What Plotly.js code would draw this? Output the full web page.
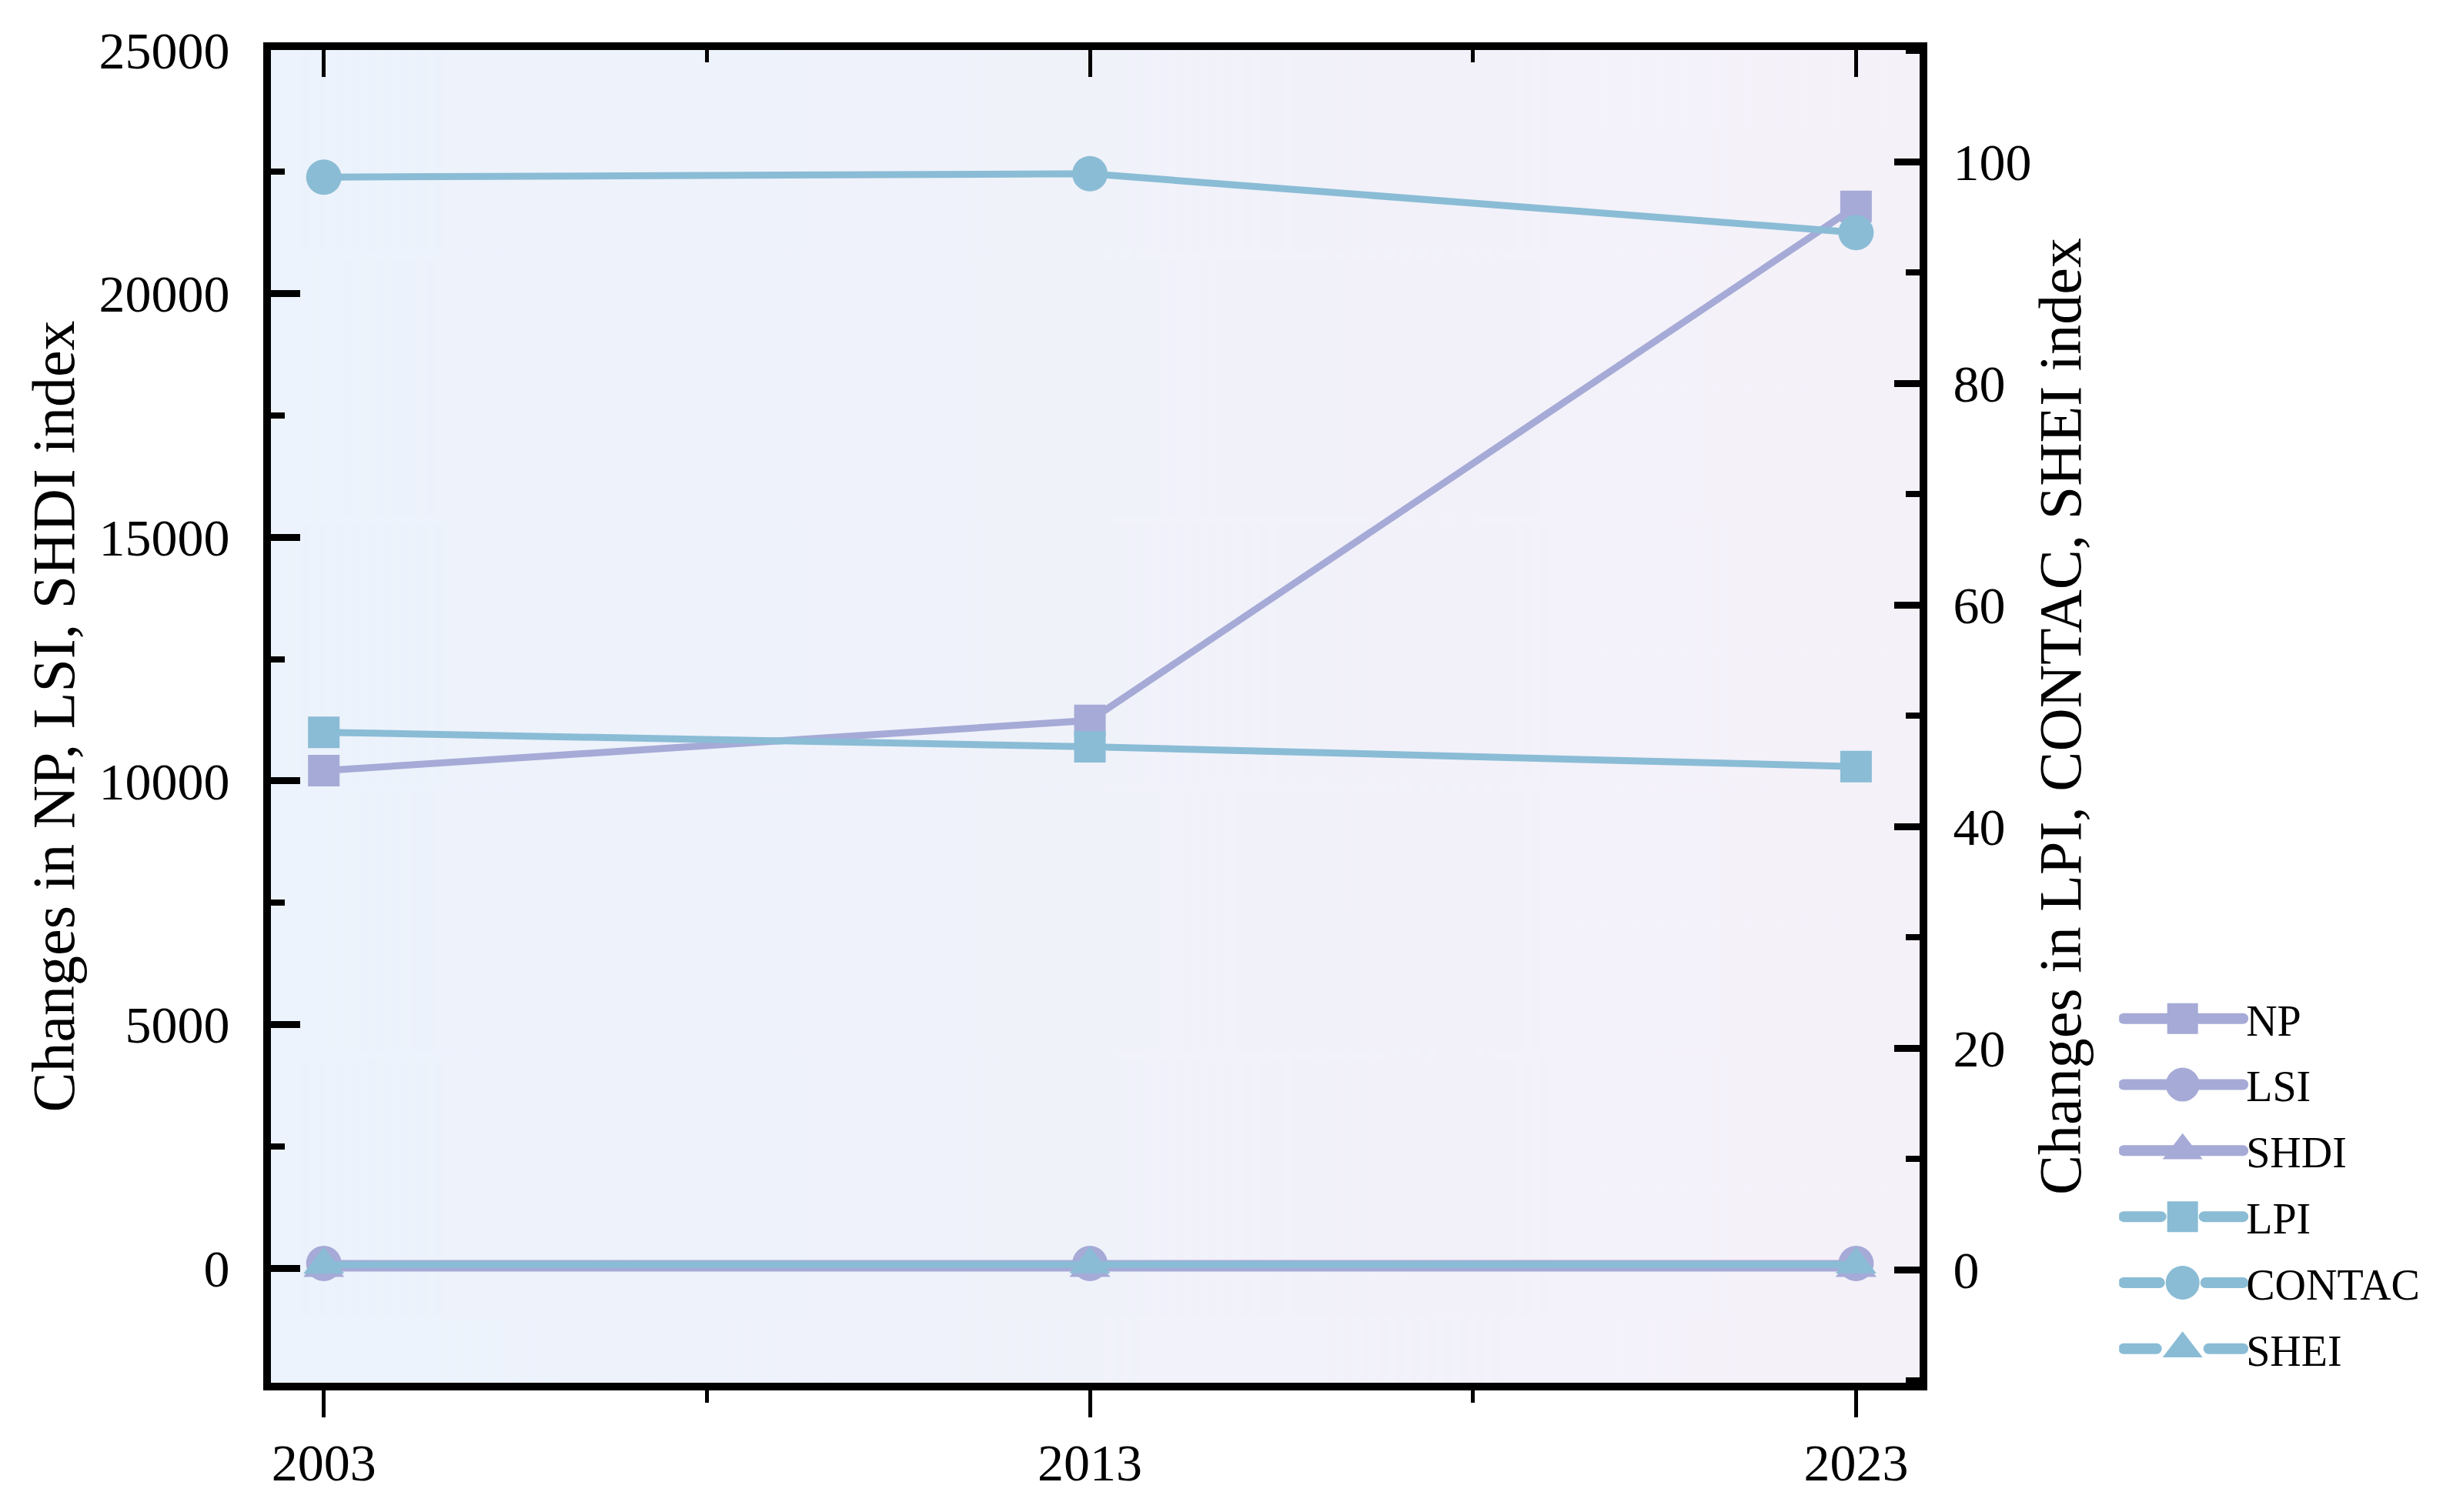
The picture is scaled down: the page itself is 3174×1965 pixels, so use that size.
<!DOCTYPE html>
<html>
<head>
<meta charset="utf-8">
<script src="https://cdn.plot.ly/plotly-3.0.1.min.js"></script>
<style>html,body{margin:0;padding:0;background:#fff;}</style>
</head>
<body>
<div id="chart" style="width:3174px;height:1965px;"></div>
<script>
// ---- data ----
var years = [2003, 2013, 2023];
var yearLabels = ['2003', '2013', '2023'];
var npVals = [10210, 11240, 21790];
var lsiVals = [95, 96, 95];
var shdiVals = [1.3, 1.4, 1.5];
var lpiVals = [48.5, 47.2, 45.4];
var contacVals = [98.6, 98.9, 93.6];
var sheiVals = [0.45, 0.47, 0.46];
var leftTicks = [0, 5000, 10000, 15000, 20000, 25000];
var leftTickLabels = ['0', '5000', '10000', '15000', '20000', '25000'];
var rightTicks = [0, 20, 40, 60, 80, 100];
var rightTickLabels = ['0', '20', '40', '60', '80', '100'];
var seriesNames = ['NP', 'LSI', 'SHDI', 'LPI', 'CONTAC', 'SHEI'];

var PURPLE = '#A6AAD6';
var BLUE = '#8ABCD5';
var FONT = 'Liberation Serif, Times New Roman, serif';

function mk(name, y, color, symbol, size, onRight) {
  return {
    type: 'scatter', mode: 'lines+markers', name: name,
    x: years, y: y,
    xaxis: onRight ? 'x2' : 'x', yaxis: onRight ? 'y2' : 'y',
    legendgroup: name,
    line: {color: color, width: 9},
    marker: {color: color, symbol: symbol, size: size, line: {width: 0}}
  };
}

var traces = [
  mk(seriesNames[0], npVals, PURPLE, 'square', 41, false),
  mk(seriesNames[1], lsiVals, PURPLE, 'circle', 46, false),
  mk(seriesNames[2], shdiVals, PURPLE, 'triangle-up', 46, false),
  mk(seriesNames[3], lpiVals, BLUE, 'square', 41, true),
  mk(seriesNames[4], contacVals, BLUE, 'circle', 46, true),
  mk(seriesNames[5], sheiVals, BLUE, 'triangle-up', 46, true)
];

// gradient background for plot area
var cv = document.createElement('canvas');
cv.width = 400; cv.height = 10;
var ctx = cv.getContext('2d');
var grd = ctx.createLinearGradient(0, 0, 400, 0);
grd.addColorStop(0, '#ECF3FC');
grd.addColorStop(1, '#F5F1F9');
ctx.fillStyle = grd; ctx.fillRect(0, 0, 400, 10);
var bgURL = cv.toDataURL('image/png');

var xr = [2002.31, 2023.83];
var tickFont = {family: FONT, size: 68, color: '#000'};
var titleFont = {family: FONT, size: 78, color: '#000'};

var layout = {
  width: 3174, height: 1965,
  margin: {l: 352, r: 680, t: 65, b: 168, pad: 0},
  paper_bgcolor: '#ffffff',
  plot_bgcolor: 'rgba(0,0,0,0)',
  font: {family: FONT, color: '#000'},
  showlegend: true,
  legend: {
    x: 1.121, xanchor: 'left', y: 0.298, yanchor: 'top',
    bgcolor: 'rgba(0,0,0,0)', borderwidth: 0,
    font: {family: FONT, size: 56, color: '#000'},
    traceorder: 'grouped', tracegroupgap: 10, itemwidth: 155,
    itemclick: false, itemdoubleclick: false
  },
  images: [{source: bgURL, xref: 'paper', yref: 'paper', x: 0, y: 1,
            sizex: 1, sizey: 1, sizing: 'stretch', layer: 'below'}],
  xaxis: {
    range: xr, tickmode: 'array', tickvals: years, ticktext: yearLabels,
    ticks: 'outside', ticklen: 35, tickwidth: 5, tickcolor: '#000',
    minor: {dtick: 5, tick0: 2003, ticks: 'outside', ticklen: 16, tickwidth: 5, tickcolor: '#000', showgrid: false},
    showline: true, linewidth: 10, linecolor: '#000',
    showgrid: false, zeroline: false, tickfont: tickFont, ticklabelstandoff: 0
  },
  xaxis2: {
    range: xr, overlaying: 'x', side: 'top', anchor: 'y2',
    tickmode: 'array', tickvals: years, ticks: 'inside', ticklen: 35, tickwidth: 5, tickcolor: '#000',
    minor: {dtick: 5, tick0: 2003, ticks: 'inside', ticklen: 16, tickwidth: 5, tickcolor: '#000', showgrid: false},
    showticklabels: false, showline: true, linewidth: 10, linecolor: '#000',
    showgrid: false, zeroline: false
  },
  yaxis: {
    range: [-2353, 25000], tickmode: 'array', tickvals: leftTicks, ticktext: leftTickLabels,
    ticks: 'inside', ticklen: 38, tickwidth: 9, tickcolor: '#000',
    minor: {dtick: 2500, tick0: 0, ticks: 'inside', ticklen: 18, tickwidth: 8, tickcolor: '#000', showgrid: false},
    showline: true, linewidth: 10, linecolor: '#000',
    showgrid: false, zeroline: false, tickfont: tickFont, ticklabelstandoff: 30,
    title: {text: 'Changes in NP, LSI, SHDI index', font: titleFont, standoff: 10}
  },
  yaxis2: {
    range: [-10.2, 110.07], overlaying: 'y', side: 'right', anchor: 'x2',
    tickmode: 'array', tickvals: rightTicks, ticktext: rightTickLabels,
    ticks: 'inside', ticklen: 33, tickwidth: 9, tickcolor: '#000',
    minor: {dtick: 10, tick0: 0, ticks: 'inside', ticklen: 18, tickwidth: 8, tickcolor: '#000', showgrid: false},
    showline: true, linewidth: 10, linecolor: '#000',
    showgrid: false, zeroline: false, tickfont: tickFont, ticklabelstandoff: 20,
    title: {text: 'Changes in LPI, CONTAC, SHEI index', font: titleFont, standoff: 14}
  }
};

var gd = document.getElementById('chart');
Plotly.newPlot(gd, traces, layout, {displayModeBar: false, staticPlot: true}).then(function () {
  // enlarge legend glyphs (Plotly caps legend marker sizes)
  var targetW = {'square': 40, 'circle': 44, 'triangle-up': 52};
  var items = gd.querySelectorAll('.legend .traces');
  items.forEach(function (g) {
    var txt = g.querySelector('text.legendtext');
    if (!txt) return;
    var name = txt.textContent;
    var idx = seriesNames.indexOf(name);
    if (idx < 0) return;
    var tr = traces[idx];
    var tx = parseFloat(txt.getAttribute('x')) || 165;
    var mc = tx / 2;
    var line = g.querySelector('path.js-line');
    if (line) {
      var d;
      if (tr.line.color === BLUE) {
        var half = targetW[tr.marker.symbol] / 2 + 8;
        d = 'M6,0H' + (mc - half) + 'M' + (mc + half) + ',0H' + (tx - 4);
      } else {
        d = 'M6,0H' + (tx - 4);
      }
      line.setAttribute('d', d);
      line.style.strokeWidth = '14px';
      line.style.strokeLinecap = 'round';
    }
    var pt = g.querySelector('path.scatterpts');
    if (pt) {
      pt.setAttribute('transform', 'translate(0,0)');
      var bb = pt.getBBox();
      var k = bb.width > 0 ? targetW[tr.marker.symbol] / bb.width : 2.5;
      pt.setAttribute('transform', 'translate(' + mc + ',0) scale(' + k + ')');
    }
  });
});
</script>
</body>
</html>
